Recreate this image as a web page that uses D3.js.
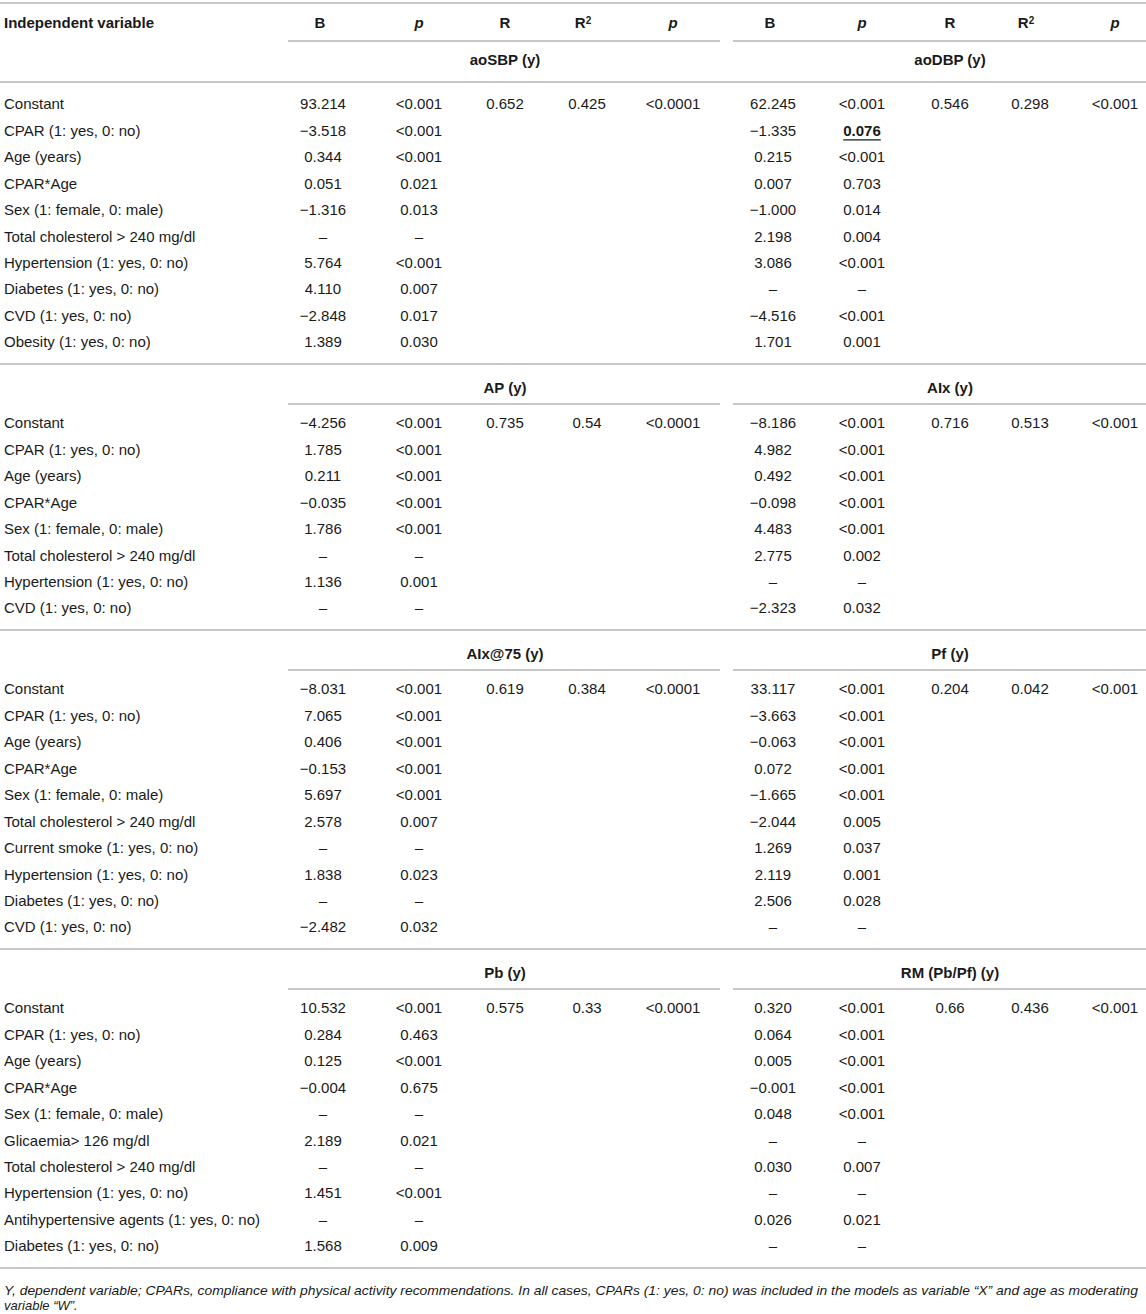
<!DOCTYPE html>
<html>
<head>
<meta charset="utf-8">
<script src="https://cdn.jsdelivr.net/npm/d3@7"></script>
<style>
  body { margin: 0; background: #fff; }
  text { font-family: "Liberation Sans", Arial, sans-serif; fill: #1a1a1a; }
</style>
</head>
<body>
<svg id="chart"></svg>
<script>
const width = 1146;
const height = 1314;

// column headers and model names
const colHeads = ["B", "p", "R", "R2", "p"];
const models = [
  ["aoSBP (y)", "aoDBP (y)"],
  ["AP (y)", "AIx (y)"],
  ["AIx@75 (y)", "Pf (y)"],
  ["Pb (y)", "RM (Pb/Pf) (y)"]
];

// section 1
const labels1 = ["Constant", "CPAR (1: yes, 0: no)", "Age (years)", "CPAR*Age", "Sex (1: female, 0: male)",
  "Total cholesterol > 240 mg/dl", "Hypertension (1: yes, 0: no)", "Diabetes (1: yes, 0: no)",
  "CVD (1: yes, 0: no)", "Obesity (1: yes, 0: no)"];
const bLeft1 = ["93.214", "\u22123.518", "0.344", "0.051", "\u22121.316", "\u2013", "5.764", "4.110", "\u22122.848", "1.389"];
const pLeft1 = ["<0.001", "<0.001", "<0.001", "0.021", "0.013", "\u2013", "<0.001", "0.007", "0.017", "0.030"];
const bRight1 = ["62.245", "\u22121.335", "0.215", "0.007", "\u22121.000", "2.198", "3.086", "\u2013", "\u22124.516", "1.701"];
const pRight1 = ["<0.001", "0.076", "<0.001", "0.703", "0.014", "0.004", "<0.001", "\u2013", "<0.001", "0.001"];
const fitLeft1 = ["0.652", "0.425", "<0.0001"];
const fitRight1 = ["0.546", "0.298", "<0.001"];

// section 2
const labels2 = ["Constant", "CPAR (1: yes, 0: no)", "Age (years)", "CPAR*Age", "Sex (1: female, 0: male)",
  "Total cholesterol > 240 mg/dl", "Hypertension (1: yes, 0: no)", "CVD (1: yes, 0: no)"];
const bLeft2 = ["\u22124.256", "1.785", "0.211", "\u22120.035", "1.786", "\u2013", "1.136", "\u2013"];
const pLeft2 = ["<0.001", "<0.001", "<0.001", "<0.001", "<0.001", "\u2013", "0.001", "\u2013"];
const bRight2 = ["\u22128.186", "4.982", "0.492", "\u22120.098", "4.483", "2.775", "\u2013", "\u22122.323"];
const pRight2 = ["<0.001", "<0.001", "<0.001", "<0.001", "<0.001", "0.002", "\u2013", "0.032"];
const fitLeft2 = ["0.735", "0.54", "<0.0001"];
const fitRight2 = ["0.716", "0.513", "<0.001"];

// section 3
const labels3 = ["Constant", "CPAR (1: yes, 0: no)", "Age (years)", "CPAR*Age", "Sex (1: female, 0: male)",
  "Total cholesterol > 240 mg/dl", "Current smoke (1: yes, 0: no)", "Hypertension (1: yes, 0: no)",
  "Diabetes (1: yes, 0: no)", "CVD (1: yes, 0: no)"];
const bLeft3 = ["\u22128.031", "7.065", "0.406", "\u22120.153", "5.697", "2.578", "\u2013", "1.838", "\u2013", "\u22122.482"];
const pLeft3 = ["<0.001", "<0.001", "<0.001", "<0.001", "<0.001", "0.007", "\u2013", "0.023", "\u2013", "0.032"];
const bRight3 = ["33.117", "\u22123.663", "\u22120.063", "0.072", "\u22121.665", "\u22122.044", "1.269", "2.119", "2.506", "\u2013"];
const pRight3 = ["<0.001", "<0.001", "<0.001", "<0.001", "<0.001", "0.005", "0.037", "0.001", "0.028", "\u2013"];
const fitLeft3 = ["0.619", "0.384", "<0.0001"];
const fitRight3 = ["0.204", "0.042", "<0.001"];

// section 4
const labels4 = ["Constant", "CPAR (1: yes, 0: no)", "Age (years)", "CPAR*Age", "Sex (1: female, 0: male)",
  "Glicaemia> 126 mg/dl", "Total cholesterol > 240 mg/dl", "Hypertension (1: yes, 0: no)",
  "Antihypertensive agents (1: yes, 0: no)", "Diabetes (1: yes, 0: no)"];
const bLeft4 = ["10.532", "0.284", "0.125", "\u22120.004", "\u2013", "2.189", "\u2013", "1.451", "\u2013", "1.568"];
const pLeft4 = ["<0.001", "0.463", "<0.001", "0.675", "\u2013", "0.021", "\u2013", "<0.001", "\u2013", "0.009"];
const bRight4 = ["0.320", "0.064", "0.005", "\u22120.001", "0.048", "\u2013", "0.030", "\u2013", "0.026", "\u2013"];
const pRight4 = ["<0.001", "<0.001", "<0.001", "<0.001", "<0.001", "\u2013", "0.007", "\u2013", "0.021", "\u2013"];
const fitLeft4 = ["0.575", "0.33", "<0.0001"];
const fitRight4 = ["0.66", "0.436", "<0.001"];

// highlighted (bold + underlined) cells: [section, row, column]
const highlights = [[0, 1, 6]];

const footnote1 = "Y, dependent variable; CPARs, compliance with physical activity recommendations. In all cases, CPARs (1: yes, 0: no) was included in the models as variable \u201cX\u201d and age as moderating";
const footnote2 = "variable \u201cW\u201d.";

const sections = [
  { labels: labels1, cols: [bLeft1, pLeft1, bRight1, pRight1], fit: [fitLeft1, fitRight1] },
  { labels: labels2, cols: [bLeft2, pLeft2, bRight2, pRight2], fit: [fitLeft2, fitRight2] },
  { labels: labels3, cols: [bLeft3, pLeft3, bRight3, pRight3], fit: [fitLeft3, fitRight3] },
  { labels: labels4, cols: [bLeft4, pLeft4, bRight4, pRight4], fit: [fitLeft4, fitRight4] }
];

const svg = d3.select("#chart")
  .attr("width", width)
  .attr("height", height)
  .attr("viewBox", [0, 0, width, height]);

const lineColor = "#b5b5b5";
const fontSize = 15;
const rowStep = 26.44;

// column centres: 10 data columns
const x = d3.scaleOrdinal()
  .domain(d3.range(10))
  .range([323, 419, 505, 587, 673, 773, 862, 950, 1030, 1115]);
const groupSpan = [[288, 720], [733, 1146]];

function hline(y, x1, x2) {
  svg.append("line")
    .attr("x1", x1).attr("x2", x2)
    .attr("y1", y).attr("y2", y)
    .attr("stroke", lineColor)
    .attr("stroke-width", 1.6);
}

function cell(txt, cx, cy, opts = {}) {
  const t = svg.append("text")
    .attr("x", cx)
    .attr("y", cy)
    .attr("dy", "0.36em")
    .attr("text-anchor", opts.anchor || "middle")
    .style("font-size", (opts.size || fontSize) + "px")
    .style("font-weight", opts.bold ? "bold" : null)
    .style("font-style", opts.italic ? "italic" : null)
    .text(txt);
  return t;
}

// top header
hline(3, 0, width);
cell("Independent variable", 4, 23, { anchor: "start", bold: true });
colHeads.concat(colHeads).forEach((h, i) => {
  if (h === "R2") {
    const t = cell("R", x(i) - 4, 23, { bold: true });
    t.append("tspan").attr("dy", "-0.45em").style("font-size", "10px").text("2");
  } else {
    cell(h, h === "B" ? x(i) - 3 : x(i), 23, { bold: true, italic: h === "p" });
  }
});
groupSpan.forEach(([a, b]) => hline(41, a, b));

let y0 = 3;
sections.forEach((sec, s) => {
  let headY, firstRow;
  if (s === 0) {
    headY = 60;
    hline(82, 0, width);
    firstRow = 104;
  } else {
    headY = y0 + 23.5;
    groupSpan.forEach(([a, b]) => hline(y0 + 40, a, b));
    firstRow = y0 + 59;
  }
  // model titles centred over the R column of each group
  models[s].forEach((m, g) => cell(m, x(g * 5 + 2), headY, { bold: true }));

  const y = d3.scaleLinear().domain([0, 1]).range([firstRow, firstRow + rowStep]);

  sec.labels.forEach((lab, r) => {
    cell(lab, 4, y(r), { anchor: "start" });
  });
  // B and p columns
  const colIdx = [0, 1, 5, 6];
  sec.cols.forEach((vals, c) => {
    vals.forEach((v, r) => {
      const hl = highlights.some(h => h[0] === s && h[1] === r && h[2] === colIdx[c]);
      const t = cell(v, x(colIdx[c]), y(r), { bold: hl });
      if (hl) {
        const bb = t.node().getBBox();
        svg.append("line")
          .attr("x1", bb.x).attr("x2", bb.x + bb.width)
          .attr("y1", y(r) + 9.5).attr("y2", y(r) + 9.5)
          .attr("stroke", "#1a1a1a").attr("stroke-width", 1.3);
      }
    });
  });
  // fit statistics on the first row
  sec.fit.forEach((vals, g) => {
    vals.forEach((v, k) => cell(v, x(g * 5 + 2 + k), y(0)));
  });

  y0 = y(sec.labels.length - 1) + 22;
  hline(y0, 0, width);
});

// footnote
svg.append("text")
  .attr("x", 4).attr("y", 1295)
  .attr("textLength", 1134)
  .attr("lengthAdjust", "spacingAndGlyphs")
  .style("font-size", "13px")
  .style("font-style", "italic")
  .text(footnote1);
svg.append("text")
  .attr("x", 4).attr("y", 1310)
  .style("font-size", "13px")
  .style("font-style", "italic")
  .text(footnote2);
</script>
</body>
</html>
